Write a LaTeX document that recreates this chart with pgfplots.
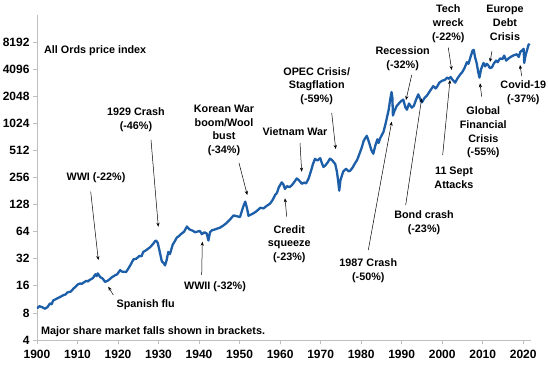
\documentclass[border=0pt]{standalone}
\usepackage{fontspec}
\setmainfont{Liberation Sans}
\usepackage{pgfplots}
\pgfplotsset{compat=1.18}
\usetikzlibrary{arrows.meta}
\definecolor{lineblue}{RGB}{28,94,168}
\definecolor{axgray}{RGB}{191,191,191}
\begin{document}
\begin{tikzpicture}
\begin{axis}[
  scale only axis, width=493.5bp, height=325bp,
  xmin=1900, xmax=2021.8,
  ymode=log, log basis y=2, ymin=4, ymax=16384,
  axis x line=bottom, axis y line=left,
  axis line style={axgray, -, line width=0.8bp},
  xtick={1900,1910,1920,1930,1940,1950,1960,1970,1980,1990,2000,2010,2020},
  xticklabels={\textbf{1900},\textbf{1910},\textbf{1920},\textbf{1930},\textbf{1940},\textbf{1950},\textbf{1960},\textbf{1970},\textbf{1980},\textbf{1990},\textbf{2000},\textbf{2010},\textbf{2020}},
  ytick={4,8,16,32,64,128,256,512,1024,2048,4096,8192},
  yticklabels={\textbf{4},\textbf{8},\textbf{16},\textbf{32},\textbf{64},\textbf{128},\textbf{256},\textbf{512},\textbf{1024},\textbf{2048},\textbf{4096},\textbf{8192}},
  tick align=outside, major tick length=4bp,
  tick style={axgray, line width=0.8bp},
  tick label style={font=\fontsize{12bp}{14bp}\selectfont\bfseries},
  xticklabel style={yshift=-3bp},
  /pgf/number format/assume math mode=true,
]
\addplot[lineblue, line width=2.3bp, line join=round] coordinates {
(1900.0,9.0) (1900.6,9.5) (1901.2,9.3) (1902.0,8.9) (1902.6,9.3) (1903.2,10.2)
(1903.6,10.0) (1904.0,11.0) (1905.0,11.6) (1905.8,12.1) (1906.5,12.6) (1907.0,12.8)
(1907.5,13.5) (1908.3,13.8) (1909.0,14.9) (1909.6,15.8) (1910.0,16.5) (1910.6,17.0)
(1911.0,16.8) (1911.5,17.4) (1912.2,18.2) (1912.6,17.9) (1913.0,18.6) (1913.8,19.5)
(1914.4,21.5) (1914.7,20.5) (1915.0,22.0) (1915.6,20.0) (1916.2,19.3) (1916.8,17.7)
(1917.4,18.2) (1918.0,19.0) (1918.4,19.8) (1919.3,21.0) (1919.8,21.5) (1920.5,23.9)
(1921.0,23.0) (1922.0,22.8) (1922.8,26.0) (1923.3,28.5) (1923.8,31.5) (1924.5,32.0)
(1925.3,34.5) (1925.8,34.0) (1926.2,38.0) (1927.0,40.0) (1927.9,43.0) (1928.7,47.0)
(1929.1,50.0) (1929.4,51.0) (1929.8,48.0) (1930.2,40.0) (1930.8,30.0) (1931.3,28.5)
(1931.6,27.0) (1932.0,31.0) (1932.4,38.0) (1932.8,36.0) (1933.5,46.0) (1934.0,50.0)
(1934.5,55.0) (1935.0,57.0) (1935.5,60.0) (1936.3,64.0) (1937.0,73.0) (1937.6,68.0)
(1938.6,65.0) (1939.0,63.0) (1939.5,64.0) (1940.2,65.0) (1940.7,60.0) (1941.3,63.0)
(1941.9,61.0) (1942.3,51.0) (1942.7,63.0) (1943.1,66.0) (1944.0,68.0) (1945.2,71.0)
(1946.0,75.0) (1946.8,80.0) (1947.7,88.0) (1948.5,97.0) (1949.3,95.0) (1950.1,93.0)
(1950.6,110) (1951.0,125) (1951.4,138) (1951.8,118) (1952.2,96) (1952.8,99)
(1953.5,103) (1954.2,108) (1955.1,118) (1955.9,116) (1956.7,124) (1957.5,131)
(1958.2,145) (1958.8,165) (1959.2,172) (1959.7,200) (1960.4,226) (1960.8,215)
(1961.2,191) (1961.7,205) (1962.3,200) (1962.9,210) (1963.5,228) (1964.1,250)
(1964.6,240) (1965.4,218) (1965.9,225) (1966.4,220) (1967.0,247) (1967.6,300)
(1968.1,360) (1968.6,413) (1969.2,395) (1969.9,420) (1970.3,370) (1970.7,335)
(1971.2,350) (1971.8,380) (1972.3,415) (1972.8,400) (1973.2,380) (1973.6,362)
(1974.0,300) (1974.3,240) (1974.6,183) (1974.9,240) (1975.6,300) (1976.3,320)
(1976.9,300) (1977.3,305) (1977.9,330) (1978.5,370) (1979.0,400) (1979.6,470)
(1980.2,560) (1980.6,650) (1981.0,700) (1981.4,745) (1981.9,640) (1982.5,520)
(1983.0,470) (1983.5,580) (1984.0,680) (1984.3,620) (1984.7,700) (1985.5,820)
(1986.0,1000) (1986.3,1150) (1986.8,1450) (1987.1,1800) (1987.5,2280) (1987.7,2000)
(1987.85,1250) (1988.2,1400) (1988.8,1600) (1989.3,1700) (1989.8,1800) (1990.4,1880)
(1990.9,1550) (1991.3,1450) (1991.8,1700) (1992.5,1530) (1993.0,1600) (1993.6,1900)
(1994.1,2150) (1994.6,1900) (1995.0,1750) (1995.6,1950) (1996.3,2100) (1997.0,2350)
(1997.8,2650) (1998.4,2500) (1998.7,2600) (1999.3,2900) (2000.0,3050) (2000.6,3100)
(2001.2,3300) (2001.7,3200) (2002.1,3350) (2002.5,3150) (2003.2,2900) (2003.8,3250)
(2004.5,3600) (2004.9,3760) (2005.5,4200) (2006.1,4900) (2006.5,4700) (2007.0,5600)
(2007.5,6600) (2007.8,6700) (2008.1,5600) (2008.5,4800) (2008.9,3800) (2009.2,3300)
(2009.6,4100) (2010.2,4800) (2010.6,4400) (2011.0,4700) (2011.4,4500) (2011.8,4200)
(2012.3,4300) (2012.7,4700) (2013.3,5100) (2013.7,4900) (2014.3,5400) (2014.9,5300)
(2015.3,5800) (2015.8,5100) (2016.4,5400) (2016.9,5600) (2017.5,5800) (2018.4,6000)
(2018.9,5600) (2019.3,6400) (2019.7,6600) (2020.1,6900) (2020.25,4800) (2020.6,5900)
(2021.0,6800) (2021.3,7600) (2021.6,7850)
};
\end{axis}
\begin{scope}[shift={(current axis.south west)}, x=1bp, y=-1bp, shift={(-37,-340)},
  every node/.style={font=\fontsize{10.8bp}{13.7bp}\selectfont\bfseries, align=center, inner sep=0pt},
  arr/.style={-{Stealth[length=4bp,width=3.2bp]}, line width=0.5bp, black}]
\node[anchor=west] at (44,51) {All Ords price index};
\node[anchor=west] at (41,331.5) {Major share market falls shown in brackets.};
\node at (96,177.5) {WWI (-22\%)};
\draw[arr] (90.7,191.7) -- (98.3,260);
\node at (136,120) {1929 Crash\\(-46\%)};
\draw[arr] (151,140) -- (158.3,226.7);
\node at (224,130.5) {Korean War\\boom/Wool\\bust\\(-34\%)};
\draw[arr] (239,163) -- (247.3,195);
\node at (295,131.7) {Vietnam War};
\draw[arr] (300,143) -- (301.7,171.7);
\node at (316.7,86) {OPEC Crisis/\\Stagflation\\(-59\%)};
\draw[arr] (331.7,113) -- (335.7,149);
\node at (402.7,58.7) {Recession\\(-32\%)};
\draw[arr] (411.7,75) -- (406,100);
\node at (448.3,23.8) {Tech\\wreck\\(-22\%)};
\draw[arr] (448.3,47.7) -- (451.7,70);
\node at (505,22.7) {Europe\\Debt\\Crisis};
\draw[arr] (492,51) -- (490,62);
\node at (523.3,92.7) {Covid-19\\(-37\%)};
\draw[arr] (521.7,76) -- (520,65);
\node at (483.3,132.5) {Global\\Financial\\Crisis\\(-55\%)};
\draw[arr] (481.7,96.7) -- (480,83.3);
\node at (454,177.8) {11 Sept\\Attacks};
\draw[arr] (442.7,155) -- (450,80);
\node at (424,222.8) {Bond crash\\(-23\%)};
\draw[arr] (405.7,205) -- (421.7,98.3);
\node at (368.3,270.5) {1987 Crash\\(-50\%)};
\draw[arr] (368.3,250) -- (391.7,121.7);
\node at (289.3,244) {Credit\\squeeze\\(-23\%)};
\draw[arr] (286.7,216.7) -- (285,198.3);
\node at (215,286.7) {WWII (-32\%)};
\draw[arr] (201.7,275) -- (202.3,241.7);
\node at (145.7,305) {Spanish flu};
\draw[arr] (113.3,295) -- (108.3,286.7);
\end{scope}
\pgfresetboundingbox
\path[use as bounding box] (current axis.south west) ++(-37bp,-26bp) rectangle ++(548bp,366bp);
\end{tikzpicture}
\end{document}
